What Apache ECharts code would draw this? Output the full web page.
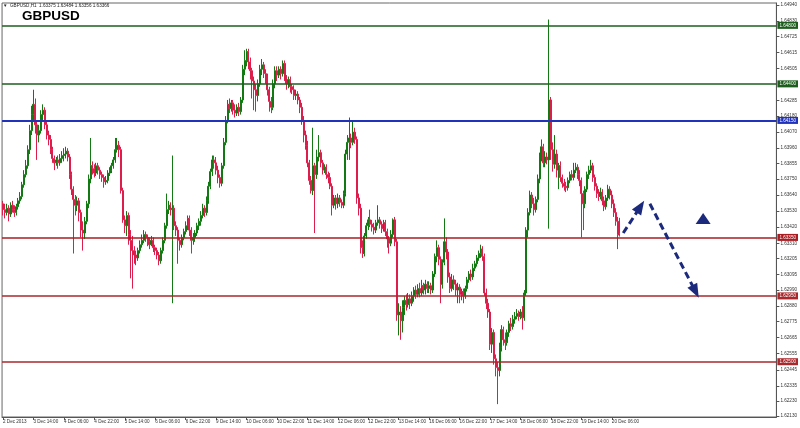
<!DOCTYPE html>
<html><head><meta charset="utf-8">
<script src="https://cdn.jsdelivr.net/npm/echarts@6/dist/echarts.min.js"></script>
<style>html,body{margin:0;padding:0;background:#fff}#c{width:800px;height:428px}</style>
</head><body><div id="c"></div>
<script>
// time-axis tick labels (every 16 H1 bars)
const tickLabels = ['2 Dec 2013','3 Dec 14:00','4 Dec 06:00','4 Dec 22:00','5 Dec 14:00','6 Dec 06:00','6 Dec 22:00','9 Dec 14:00','10 Dec 06:00','10 Dec 22:00','11 Dec 14:00','12 Dec 06:00','12 Dec 22:00','13 Dec 14:00','16 Dec 06:00','16 Dec 22:00','17 Dec 14:00','18 Dec 06:00','18 Dec 22:00','19 Dec 14:00','20 Dec 06:00'];
// price-axis tick labels
const priceTicks = [1.64940,1.64830,1.64725,1.64615,1.64505,1.64285,1.64180,1.64070,1.63960,1.63855,1.63750,1.63640,1.63530,1.63420,1.63310,1.63205,1.63095,1.62990,1.62880,1.62775,1.62665,1.62555,1.62445,1.62335,1.62230,1.62130];
// horizontal levels
const levelValues = [1.64800, 1.64400, 1.64150, 1.63350, 1.62950, 1.62500];
const levelColors = ['#1d5e1d', '#1d5e1d', '#2233bb', '#a81c22', '#a8282c', '#a8282c'];
const bidPrice = 1.63366;
// H1 bars: [open, close, low, high]
const ohlc = [
[1.6358,1.6354,1.6350,1.6360],[1.6354,1.6352,1.6348,1.6358],[1.6352,1.6355,1.6350,1.6358],[1.6355,1.6351,1.6346,1.6357],
[1.6351,1.6357,1.6349,1.6359],[1.6357,1.6354,1.6352,1.6360],[1.6354,1.6352,1.6349,1.6357],[1.6352,1.6356,1.6350,1.6358],
[1.6356,1.6360,1.6354,1.6362],[1.6360,1.6363,1.6358,1.6366],[1.6363,1.6371,1.6361,1.6373],[1.6371,1.6378,1.6369,1.6381],
[1.6378,1.6384,1.6376,1.6388],[1.6384,1.6395,1.6382,1.6398],[1.6395,1.6408,1.6392,1.6412],[1.6408,1.6419,1.6405,1.6425],
[1.6419,1.6426,1.6415,1.6436],[1.6426,1.6412,1.6406,1.6430],[1.6412,1.6405,1.6388,1.6414],[1.6405,1.6408,1.6400,1.6412],
[1.6408,1.6419,1.6406,1.6422],[1.6419,1.6422,1.6415,1.6426],[1.6422,1.6412,1.6409,1.6424],[1.6412,1.6405,1.6402,1.6415],
[1.6405,1.6402,1.6398,1.6408],[1.6402,1.6395,1.6392,1.6405],[1.6395,1.6389,1.6386,1.6397],[1.6389,1.6386,1.6381,1.6391],
[1.6386,1.6388,1.6384,1.6390],[1.6388,1.6386,1.6382,1.6391],[1.6386,1.6389,1.6384,1.6392],[1.6389,1.6391,1.6386,1.6394],
[1.6391,1.6392,1.6387,1.6396],[1.6392,1.6394,1.6389,1.6397],[1.6394,1.6390,1.6387,1.6396],[1.6390,1.6378,1.6375,1.6392],
[1.6378,1.6368,1.6364,1.6380],[1.6368,1.6361,1.6324,1.6370],[1.6361,1.6357,1.6350,1.6364],[1.6357,1.6360,1.6353,1.6363],
[1.6360,1.6352,1.6346,1.6362],[1.6352,1.6340,1.6335,1.6354],[1.6340,1.6338,1.6326,1.6346],[1.6338,1.6346,1.6334,1.6349],
[1.6346,1.6358,1.6344,1.6360],[1.6358,1.6375,1.6355,1.6378],[1.6375,1.6384,1.6372,1.6403],[1.6384,1.6382,1.6378,1.6387],
[1.6382,1.6379,1.6376,1.6385],[1.6379,1.6384,1.6377,1.6386],[1.6384,1.6381,1.6378,1.6386],[1.6381,1.6378,1.6375,1.6383],
[1.6378,1.6376,1.6373,1.6380],[1.6376,1.6373,1.6369,1.6378],[1.6373,1.6374,1.6371,1.6377],[1.6374,1.6379,1.6372,1.6381],
[1.6379,1.6381,1.6377,1.6383],[1.6381,1.6384,1.6379,1.6386],[1.6384,1.6388,1.6382,1.6390],[1.6388,1.6395,1.6386,1.6403],
[1.6395,1.6398,1.6393,1.6403],[1.6398,1.6395,1.6390,1.6401],[1.6395,1.6367,1.6365,1.6397],[1.6367,1.6347,1.6345,1.6369],
[1.6347,1.6343,1.6338,1.6350],[1.6343,1.6350,1.6336,1.6353],[1.6350,1.6337,1.6330,1.6352],[1.6337,1.6333,1.6307,1.6340],
[1.6333,1.6326,1.6300,1.6336],[1.6326,1.6323,1.6317,1.6329],[1.6323,1.6321,1.6316,1.6326],[1.6321,1.6326,1.6319,1.6328],
[1.6326,1.6330,1.6324,1.6333],[1.6330,1.6333,1.6328,1.6337],[1.6333,1.6337,1.6331,1.6340],[1.6337,1.6335,1.6332,1.6339],
[1.6335,1.6332,1.6329,1.6337],[1.6332,1.6330,1.6327,1.6335],[1.6330,1.6333,1.6329,1.6336],[1.6333,1.6328,1.6325,1.6335],
[1.6328,1.6326,1.6323,1.6330],[1.6326,1.6323,1.6320,1.6328],[1.6323,1.6319,1.6316,1.6325],[1.6319,1.6326,1.6317,1.6328],
[1.6326,1.6333,1.6324,1.6335],[1.6333,1.6343,1.6331,1.6345],[1.6343,1.6354,1.6341,1.6365],[1.6354,1.6357,1.6351,1.6360],
[1.6357,1.6354,1.6350,1.6359],[1.6354,1.6355,1.6290,1.6391],[1.6355,1.6343,1.6340,1.6357],[1.6343,1.6340,1.6336,1.6346],
[1.6340,1.6333,1.6317,1.6342],[1.6333,1.6330,1.6326,1.6335],[1.6330,1.6335,1.6328,1.6337],[1.6335,1.6339,1.6333,1.6341],
[1.6339,1.6343,1.6337,1.6346],[1.6343,1.6348,1.6340,1.6350],[1.6348,1.6340,1.6336,1.6350],[1.6340,1.6333,1.6324,1.6342],
[1.6333,1.6335,1.6330,1.6338],[1.6335,1.6338,1.6332,1.6340],[1.6338,1.6343,1.6336,1.6345],[1.6343,1.6346,1.6340,1.6348],
[1.6346,1.6350,1.6343,1.6353],[1.6350,1.6355,1.6348,1.6358],[1.6355,1.6352,1.6349,1.6357],[1.6352,1.6360,1.6350,1.6363],
[1.6360,1.6370,1.6358,1.6373],[1.6370,1.6380,1.6368,1.6382],[1.6380,1.6388,1.6377,1.6391],[1.6388,1.6386,1.6382,1.6391],
[1.6386,1.6381,1.6378,1.6390],[1.6381,1.6376,1.6372,1.6384],[1.6376,1.6372,1.6369,1.6378],[1.6372,1.6384,1.6370,1.6386],
[1.6384,1.6400,1.6382,1.6403],[1.6400,1.6415,1.6398,1.6418],[1.6415,1.6426,1.6413,1.6429],[1.6426,1.6423,1.6420,1.6430],
[1.6423,1.6427,1.6421,1.6429],[1.6427,1.6422,1.6419,1.6429],[1.6422,1.6420,1.6417,1.6426],[1.6420,1.6424,1.6418,1.6426],
[1.6424,1.6421,1.6418,1.6427],[1.6421,1.6429,1.6419,1.6431],[1.6429,1.6450,1.6427,1.6453],[1.6450,1.6456,1.6446,1.6463],
[1.6456,1.6462,1.6452,1.6464],[1.6462,1.6455,1.6450,1.6464],[1.6455,1.6449,1.6443,1.6458],[1.6449,1.6442,1.6430,1.6451],
[1.6442,1.6436,1.6422,1.6445],[1.6436,1.6432,1.6421,1.6440],[1.6432,1.6440,1.6428,1.6443],[1.6440,1.6450,1.6438,1.6453],
[1.6450,1.6453,1.6446,1.6457],[1.6453,1.6447,1.6444,1.6455],[1.6447,1.6444,1.6440,1.6450],[1.6444,1.6436,1.6432,1.6447],
[1.6436,1.6428,1.6421,1.6438],[1.6428,1.6424,1.6420,1.6431],[1.6424,1.6440,1.6422,1.6443],[1.6440,1.6449,1.6437,1.6452],
[1.6449,1.6446,1.6442,1.6452],[1.6446,1.6450,1.6444,1.6452],[1.6450,1.6447,1.6443,1.6452],[1.6447,1.6454,1.6445,1.6456],
[1.6454,1.6444,1.6442,1.6456],[1.6444,1.6440,1.6436,1.6446],[1.6440,1.6443,1.6437,1.6445],[1.6443,1.6438,1.6434,1.6445],
[1.6438,1.6436,1.6433,1.6440],[1.6436,1.6432,1.6429,1.6439],[1.6432,1.6433,1.6429,1.6436],[1.6433,1.6429,1.6426,1.6435],
[1.6429,1.6424,1.6420,1.6431],[1.6424,1.6415,1.6412,1.6427],[1.6415,1.6405,1.6400,1.6418],[1.6405,1.6398,1.6395,1.6408],
[1.6398,1.6386,1.6383,1.6401],[1.6386,1.6374,1.6371,1.6388],[1.6374,1.6367,1.6365,1.6377],[1.6367,1.6384,1.6364,1.6410],
[1.6384,1.6378,1.6338,1.6386],[1.6378,1.6390,1.6375,1.6395],[1.6390,1.6393,1.6387,1.6405],[1.6393,1.6386,1.6383,1.6395],
[1.6386,1.6381,1.6378,1.6388],[1.6381,1.6383,1.6379,1.6385],[1.6383,1.6378,1.6375,1.6385],[1.6378,1.6376,1.6372,1.6380],
[1.6376,1.6370,1.6368,1.6379],[1.6370,1.6357,1.6350,1.6372],[1.6357,1.6362,1.6355,1.6364],[1.6362,1.6358,1.6354,1.6364],
[1.6358,1.6362,1.6355,1.6365],[1.6362,1.6359,1.6356,1.6364],[1.6359,1.6357,1.6355,1.6361],[1.6357,1.6365,1.6355,1.6367],
[1.6365,1.6392,1.6363,1.6395],[1.6392,1.6400,1.6388,1.6405],[1.6400,1.6403,1.6388,1.6417],[1.6403,1.6400,1.6396,1.6406],
[1.6400,1.6407,1.6398,1.6415],[1.6407,1.6402,1.6399,1.6410],[1.6402,1.6362,1.6358,1.6404],[1.6362,1.6355,1.6350,1.6365],
[1.6355,1.6328,1.6324,1.6358],[1.6328,1.6324,1.6321,1.6333],[1.6324,1.6336,1.6322,1.6338],[1.6336,1.6343,1.6334,1.6345],
[1.6343,1.6347,1.6340,1.6349],[1.6347,1.6344,1.6342,1.6354],[1.6344,1.6342,1.6339,1.6347],[1.6342,1.6340,1.6337,1.6345],
[1.6340,1.6345,1.6338,1.6347],[1.6345,1.6347,1.6343,1.6357],[1.6347,1.6344,1.6341,1.6349],[1.6344,1.6341,1.6338,1.6346],
[1.6341,1.6345,1.6339,1.6347],[1.6345,1.6339,1.6336,1.6347],[1.6339,1.6334,1.6328,1.6341],[1.6334,1.6331,1.6324,1.6336],
[1.6331,1.6337,1.6329,1.6340],[1.6337,1.6347,1.6335,1.6348],[1.6347,1.6332,1.6329,1.6349],[1.6332,1.6282,1.6278,1.6334],
[1.6282,1.6284,1.6268,1.6290],[1.6284,1.6278,1.6265,1.6288],[1.6278,1.6287,1.6270,1.6292],[1.6287,1.6292,1.6282,1.6295],
[1.6292,1.6289,1.6285,1.6296],[1.6289,1.6293,1.6287,1.6297],[1.6293,1.6290,1.6286,1.6296],[1.6290,1.6295,1.6288,1.6298],
[1.6295,1.6299,1.6291,1.6301],[1.6299,1.6296,1.6293,1.6302],[1.6296,1.6300,1.6294,1.6303],[1.6300,1.6297,1.6294,1.6304],
[1.6297,1.6302,1.6295,1.6306],[1.6302,1.6299,1.6296,1.6304],[1.6299,1.6303,1.6296,1.6306],[1.6303,1.6300,1.6297,1.6305],
[1.6300,1.6302,1.6297,1.6305],[1.6302,1.6299,1.6296,1.6304],[1.6299,1.6310,1.6297,1.6312],[1.6310,1.6322,1.6308,1.6324],
[1.6322,1.6328,1.6318,1.6333],[1.6328,1.6320,1.6316,1.6330],[1.6320,1.6303,1.6290,1.6322],[1.6303,1.6318,1.6300,1.6320],
[1.6318,1.6332,1.6316,1.6348],[1.6332,1.6325,1.6320,1.6335],[1.6325,1.6308,1.6304,1.6327],[1.6308,1.6300,1.6297,1.6311],
[1.6300,1.6306,1.6298,1.6310],[1.6306,1.6303,1.6299,1.6309],[1.6303,1.6299,1.6295,1.6306],[1.6299,1.6301,1.6290,1.6304],
[1.6301,1.6296,1.6290,1.6303],[1.6296,1.6298,1.6292,1.6300],[1.6298,1.6295,1.6290,1.6300],[1.6295,1.6300,1.6293,1.6302],
[1.6300,1.6306,1.6298,1.6308],[1.6306,1.6310,1.6304,1.6312],[1.6310,1.6308,1.6305,1.6313],[1.6308,1.6314,1.6306,1.6317],
[1.6314,1.6317,1.6312,1.6319],[1.6317,1.6321,1.6315,1.6323],[1.6321,1.6324,1.6319,1.6326],[1.6324,1.6327,1.6321,1.6330],
[1.6327,1.6322,1.6319,1.6329],[1.6322,1.6297,1.6295,1.6324],[1.6297,1.6290,1.6286,1.6300],[1.6290,1.6284,1.6280,1.6293],
[1.6284,1.6262,1.6258,1.6286],[1.6262,1.6270,1.6256,1.6273],[1.6270,1.6252,1.6248,1.6272],[1.6252,1.6246,1.6240,1.6255],
[1.6246,1.6244,1.6221,1.6250],[1.6244,1.6260,1.6240,1.6263],[1.6260,1.6272,1.6257,1.6275],[1.6272,1.6265,1.6261,1.6274],
[1.6265,1.6263,1.6258,1.6270],[1.6263,1.6270,1.6261,1.6272],[1.6270,1.6276,1.6267,1.6278],[1.6276,1.6274,1.6271,1.6280],
[1.6274,1.6279,1.6272,1.6282],[1.6279,1.6281,1.6276,1.6284],[1.6281,1.6283,1.6279,1.6286],[1.6283,1.6281,1.6278,1.6285],
[1.6281,1.6284,1.6279,1.6286],[1.6284,1.6280,1.6272,1.6288],[1.6280,1.6297,1.6278,1.6299],[1.6297,1.6340,1.6295,1.6342],
[1.6340,1.6352,1.6335,1.6355],[1.6352,1.6364,1.6350,1.6367],[1.6364,1.6358,1.6355,1.6366],[1.6358,1.6354,1.6350,1.6362],
[1.6354,1.6361,1.6352,1.6363],[1.6361,1.6375,1.6359,1.6378],[1.6375,1.6390,1.6372,1.6393],[1.6390,1.6397,1.6387,1.6402],
[1.6397,1.6386,1.6383,1.6399],[1.6386,1.6390,1.6383,1.6394],[1.6390,1.6388,1.6385,1.6393],[1.6388,1.6429,1.6341,1.6484],
[1.6429,1.6395,1.6388,1.6431],[1.6395,1.6385,1.6380,1.6400],[1.6385,1.6392,1.6382,1.6405],[1.6392,1.6381,1.6376,1.6395],
[1.6381,1.6384,1.6368,1.6386],[1.6384,1.6376,1.6373,1.6387],[1.6376,1.6372,1.6369,1.6378],[1.6372,1.6370,1.6367,1.6375],
[1.6370,1.6369,1.6366,1.6373],[1.6369,1.6374,1.6367,1.6376],[1.6374,1.6378,1.6372,1.6380],[1.6378,1.6376,1.6374,1.6381],
[1.6376,1.6381,1.6374,1.6386],[1.6381,1.6383,1.6379,1.6386],[1.6383,1.6378,1.6375,1.6385],[1.6378,1.6374,1.6370,1.6381],
[1.6374,1.6365,1.6335,1.6376],[1.6365,1.6358,1.6340,1.6367],[1.6358,1.6368,1.6355,1.6370],[1.6368,1.6378,1.6366,1.6380],
[1.6378,1.6381,1.6375,1.6384],[1.6381,1.6384,1.6379,1.6388],[1.6384,1.6376,1.6373,1.6386],[1.6376,1.6370,1.6367,1.6378],
[1.6370,1.6365,1.6362,1.6372],[1.6365,1.6363,1.6360,1.6368],[1.6363,1.6366,1.6361,1.6369],[1.6366,1.6360,1.6357,1.6368],
[1.6360,1.6356,1.6353,1.6363],[1.6356,1.6362,1.6354,1.6364],[1.6362,1.6368,1.6360,1.6371],[1.6368,1.6364,1.6361,1.6370],
[1.6364,1.6358,1.6355,1.6367],[1.6358,1.6352,1.6349,1.6361],[1.6352,1.6346,1.6343,1.6355],[1.6346,1.6337,1.6327,1.6349],
[1.63375,1.63366,1.63356,1.63484]
];
// analyst annotation: projected path [barIndex, price]
const arrowUp = [[326,1.6338],[335,1.6356]];
const arrowDown = [[340,1.6358],[364,1.6298]];
const triangleMark = [368,1.6348];

const SLOTS = 407; // bar slots across the chart width (incl. right shift)
const cats = Array.from({length:SLOTS},(_,i)=> (i%16===0 && i/16<tickLabels.length) ? tickLabels[i/16] : '');

const navy = '#1c2a7e';
const small = {fontFamily:'Liberation Sans', fontSize:4.6};
const chart = echarts.init(document.getElementById('c'), null, {renderer:'canvas'});
const boxLabel = (txt, bg, off) => ({show:true, position:'end', distance:1, offset:off||[0,0], formatter:txt,
  color:'#fff', backgroundColor:bg, padding:[1,2,1,2], ...small});
const lvlLines = levelValues.map((v,k) => ({
  yAxis:v, symbol:'none',
  lineStyle:{color:levelColors[k], width: k===2 ? 2 : 1.6, type:'solid'},
  label:boxLabel(v.toFixed(5), levelColors[k])
}));
chart.setOption({
  animation:false,
  backgroundColor:'#ffffff',
  title:[
    {text:'\u25BC', left:3, top:3, padding:0, textStyle:{fontSize:4.5, color:'#222', fontWeight:'normal'}},
    {text:'GBPUSD,H1  1.63375 1.63484 1.63356 1.63366', left:10, top:3.5, padding:0,
      textStyle:{...small, color:'#222', fontWeight:'normal'}},
    {text:'GBPUSD', left:22, top:9, padding:0,
      textStyle:{fontFamily:'Liberation Sans', fontSize:13.5, fontWeight:'bold', color:'#000'}}
  ],
  grid:{left:2, right:23, top:3, bottom:11, show:true, borderColor:'#666', borderWidth:1},
  xAxis:{
    type:'category', data:cats, boundaryGap:true,
    axisLine:{show:true, lineStyle:{color:'#555'}},
    axisTick:{show:true, alignWithLabel:true, length:3, interval:(i)=>i%16===0 && i<=320, lineStyle:{color:'#555'}},
    axisLabel:{show:true, interval:(i)=>i%16===0 && i<=320, align:'left', margin:2, color:'#333', ...small},
    splitLine:{show:false}
  },
  yAxis:{
    type:'value', position:'right', min:1.62122, max:1.64953, scale:true,
    axisLine:{show:true, lineStyle:{color:'#555'}},
    axisTick:{show:true, length:3, customValues:priceTicks, lineStyle:{color:'#555'}},
    axisLabel:{show:true, customValues:priceTicks, margin:4, color:'#333', ...small,
      formatter:(v)=>v.toFixed(5)},
    splitLine:{show:false}
  },
  series:[
    {
      type:'line', data:[], silent:true, z:1,
      markLine:{
        silent:true, animation:false, precision:5, symbol:['none','none'],
        data:[
          ...lvlLines,
          {yAxis:bidPrice, symbol:'none', lineStyle:{opacity:0, width:0},
            label:boxLabel(bidPrice.toFixed(5), '#111', [0,-3.5])},
          {yAxis:levelValues[3], symbol:'none', lineStyle:{opacity:0, width:0},
            label:boxLabel(levelValues[3].toFixed(5), levelColors[3])}
        ]
      }
    },
    {
      type:'candlestick', data:ohlc, barWidth:1.5, z:3,
      itemStyle:{color:'#137a13', color0:'#dd1d4c', borderColor:'#137a13', borderColor0:'#dd1d4c', borderWidth:1}
    },
    {
      type:'line', data:[], silent:true, z:4,
      markLine:{
        silent:true, animation:false, precision:5, symbol:['none','triangle'], symbolSize:[11,14],
        lineStyle:{color:navy, width:3, type:[7,4]},
        label:{show:false},
        data:[
          [{coord:arrowUp[0]},{coord:arrowUp[1]}],
          [{coord:arrowDown[0]},{coord:arrowDown[1]}]
        ]
      },
      markPoint:{
        silent:true, animation:false,
        data:[{coord:triangleMark, symbol:'triangle', symbolSize:[15,11], itemStyle:{color:navy}, label:{show:false}}]
      }
    }
  ]
});
</script></body></html>
